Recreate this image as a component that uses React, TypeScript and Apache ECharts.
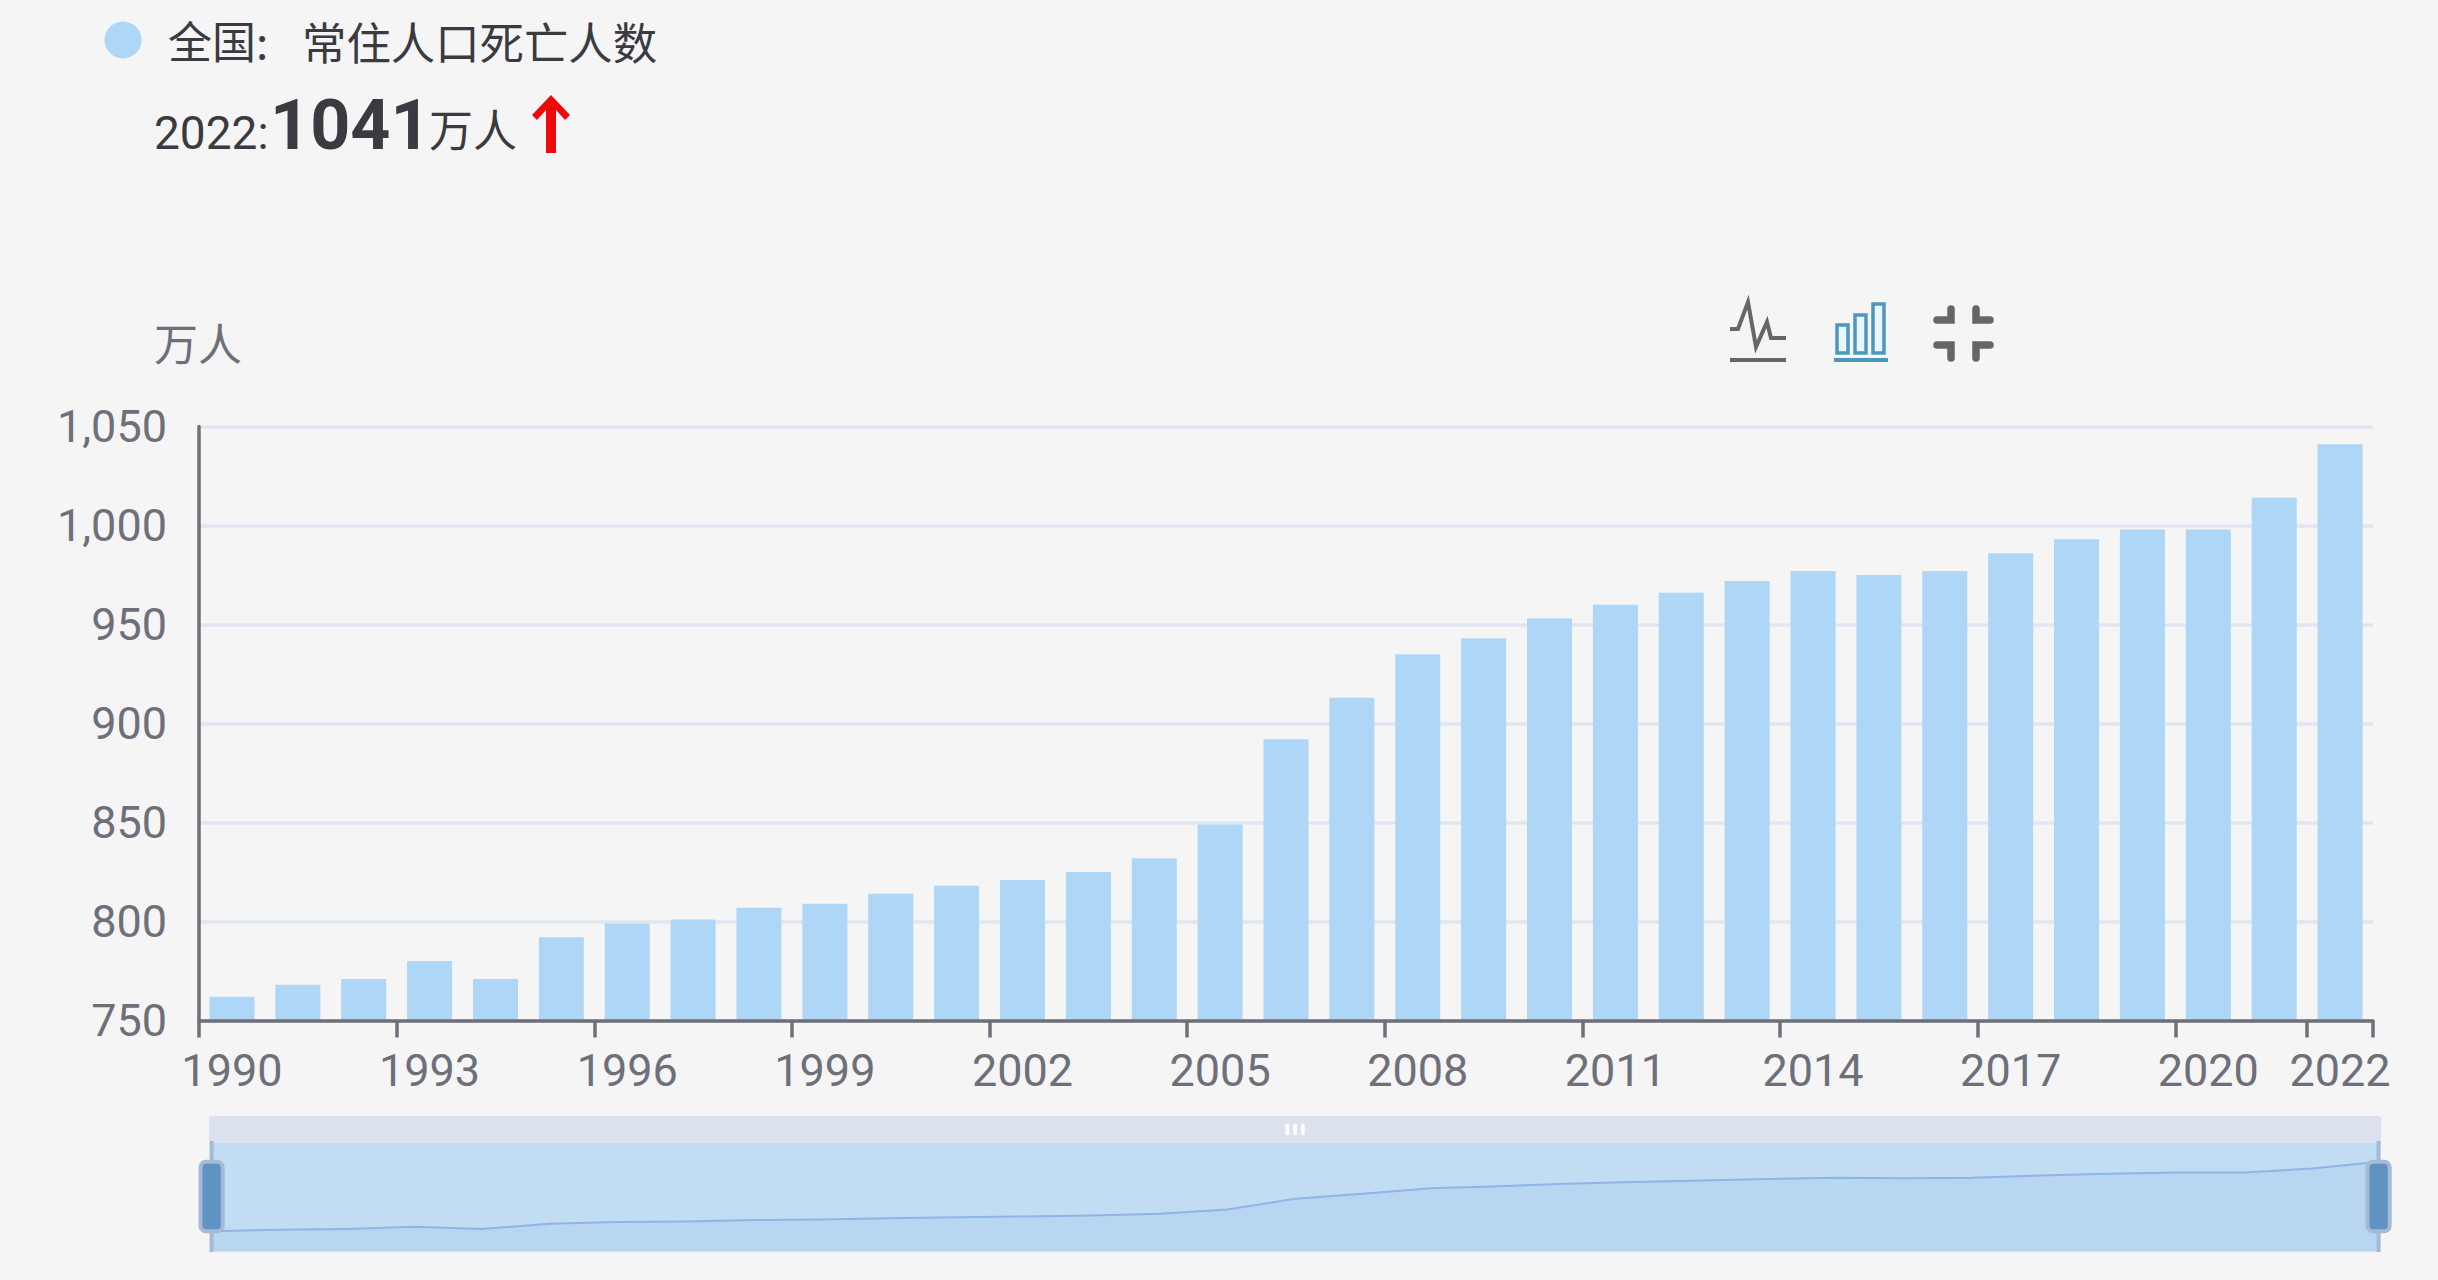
import React, { useEffect, useRef } from "react";
import * as echarts from "echarts";

const years = ["1990","1991","1992","1993","1994","1995","1996","1997","1998","1999","2000","2001","2002","2003","2004","2005","2006","2007","2008","2009","2010","2011","2012","2013","2014","2015","2016","2017","2018","2019","2020","2021","2022"];
const deaths = [762,768,771,780,771,792,799,801,807,809,814,818,821,825,832,849,892,913,935,943,953,960,966,972,977,975,977,986,993,998,998,1014,1041];
const yTicks = { min: 750, max: 1050, interval: 50 };

const CJK = '"Noto Sans CJK SC", sans-serif';
const NUM = 'Roboto, "Noto Sans CJK SC", sans-serif';
const GREY = "#6e7079";
const DARK = "#3a3b40";
const ICON = "#666666";
const TEAL = "#4f97ba";
const BAR = "#aed6f7";

const showTick = (i: number) => i % 3 === 0 || i === years.length - 1;

function iconLine(points: number[][], stroke: string, lineWidth: number, cap = "butt") {
  return {
    type: "polyline",
    shape: { points },
    style: { fill: "none", stroke, lineWidth, lineCap: cap, lineJoin: "miter" },
  };
}

function iconRect(x: number, y: number, width: number, height: number) {
  return {
    type: "rect",
    shape: { x, y, width, height },
    style: { fill: "#e8f6fd", stroke: TEAL, lineWidth: 3.5 },
  };
}

export default function App() {
  const ref = useRef<HTMLDivElement>(null);
  useEffect(() => {
    document.body.style.background = "#f5f5f5";
    const chart = echarts.init(ref.current!, undefined, { renderer: "svg" });
    chart.setOption({
      animation: false,
      backgroundColor: "#f5f5f5",
      grid: { left: 199, right: 65, top: 426.5, height: 594, containLabel: false },
      xAxis: {
        type: "category",
        data: years,
        z: 5,
        axisLine: { lineStyle: { color: GREY, width: 3.5 } },
        axisTick: { show: true, length: 17, interval: (i: number) => showTick(i), lineStyle: { color: GREY, width: 3.5 } },
        axisLabel: { color: GREY, fontFamily: NUM, fontSize: 45, margin: 27, interval: (i: number) => showTick(i) },
      },
      yAxis: {
        type: "value",
        min: yTicks.min,
        max: yTicks.max,
        interval: yTicks.interval,
        axisLine: { show: true, lineStyle: { color: GREY, width: 3.5 } },
        axisTick: { show: false },
        axisLabel: { color: GREY, fontFamily: NUM, fontSize: 45, margin: 32, padding: [0, 0, 5, 0] },
        splitLine: { lineStyle: { color: "#e0e6f1", width: 3.5 } },
      },
      dataZoom: [
        {
          type: "slider",
          xAxisIndex: 0,
          start: 0,
          end: 100,
          left: 201,
          right: 68,
          top: 1116,
          height: 111,
          showDetail: false,
          showDataShadow: true,
          moveHandleSize: 24,
          borderColor: "#d9e2ef",
          backgroundColor: "#c2dcf3",
          fillerColor: "rgba(0,0,0,0)",
          handleStyle: { color: "#5f93c2", borderColor: "#a6b9d6", borderWidth: 4 },
          dataBackground: { lineStyle: { color: "#8fb0f7", width: 1 }, areaStyle: { color: "#8fb0f7", opacity: 0.2 } },
          selectedDataBackground: { lineStyle: { color: "#8fb4e6", width: 2 }, areaStyle: { color: "#8fbcf0", opacity: 0.2 } },
          moveHandleStyle: { color: "#dbe2ee", borderColor: "#dbe2ee", borderWidth: 3, opacity: 1 },
        },
      ],
      series: [
        {
          type: "bar",
          data: deaths,
          barWidth: 45,
          itemStyle: { color: BAR },
        },
      ],
      graphic: [
        { type: "circle", shape: { cx: 123, cy: 40, r: 18.5 }, style: { fill: BAR } },
        { type: "text", x: 168, y: 40, style: { text: "全国:", fill: DARK, font: `400 44px ${CJK}`, verticalAlign: "middle" } },
        { type: "text", x: 302, y: 40, style: { text: "常住人口死亡人数", fill: DARK, font: `400 44.4px ${CJK}`, verticalAlign: "middle" } },
        { type: "text", x: 154, y: 133, style: { text: "2022:", fill: DARK, font: `400 46px ${NUM}`, verticalAlign: "middle" } },
        { type: "text", x: 270, y: 125, style: { text: "1041", fill: DARK, font: `700 70px ${NUM}`, verticalAlign: "middle" } },
        { type: "text", x: 429, y: 128, style: { text: "万人", fill: DARK, font: `400 44px ${CJK}`, verticalAlign: "middle" } },
        { type: "polygon", shape: { points: [[551,95],[570,115],[565,120],[556,110],[556,153],[546,153],[546,110],[537,120],[532,115]] }, style: { fill: "#ee0a0a" } },
        { type: "text", x: 154, y: 342, style: { text: "万人", fill: GREY, font: `400 44px ${CJK}`, verticalAlign: "middle" } },
        iconLine([[1730,329],[1738,329],[1748,302],[1756,347],[1767,322],[1771,338],[1786,338]], ICON, 4),
        iconLine([[1730,360],[1786,360]], ICON, 4),
        iconRect(1837,325,11,28),
        iconRect(1855,315,11,38),
        iconRect(1873,304,11,49),
        iconLine([[1834,360],[1888,360]], TEAL, 4),
        iconLine([[1951,309],[1951,320],[1937,320]], ICON, 7.5, "round"),
        iconLine([[1976,309],[1976,320],[1990,320]], ICON, 7.5, "round"),
        iconLine([[1937,345],[1951,345],[1951,358]], ICON, 7.5, "round"),
        iconLine([[1990,345],[1976,345],[1976,358]], ICON, 7.5, "round"),
      ],
    });
    return () => chart.dispose();
  }, []);
  return <div ref={ref} style={{ position: "fixed", left: 0, top: 0, width: 2438, height: 1280 }} />;
}
